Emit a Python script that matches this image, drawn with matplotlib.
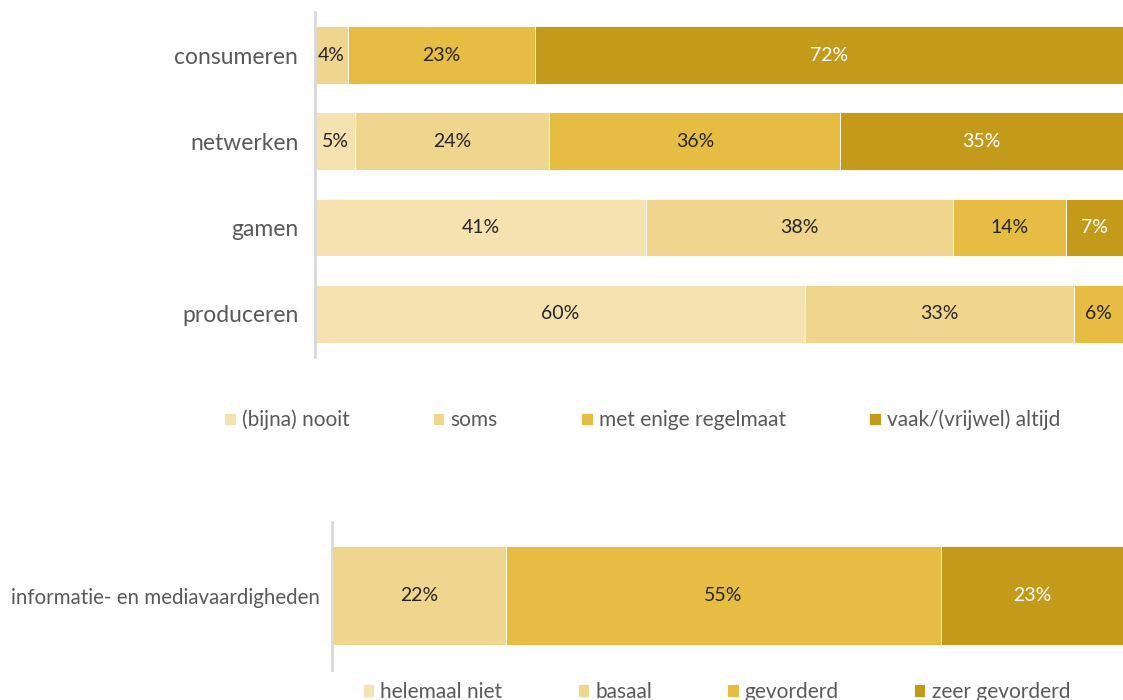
import matplotlib
matplotlib.use("Agg")
import matplotlib.pyplot as plt
import numpy as np

plt.rcParams['font.family'] = ['Lato', 'DejaVu Sans']

# --- data ---
top_categories = ["consumeren", "netwerken", "gamen", "produceren"]
top_series = ["(bijna) nooit", "soms", "met enige regelmaat", "vaak/(vrijwel) altijd"]
top_nooit = [0, 5, 41, 60]
top_soms = [4, 24, 38, 33]
top_regelmaat = [23, 36, 14, 6]
top_vaak = [72, 35, 7, 0]

bottom_categories = ["informatie- en mediavaardigheden"]
bottom_series = ["helemaal niet", "basaal", "gevorderd", "zeer gevorderd"]
bottom_niet = [0]
bottom_basaal = [22]
bottom_gevorderd = [55]
bottom_zeer = [23]

colors = ["#F5E2B0", "#F0D58F", "#E6BC42", "#C49A1A"]
text_colors = ["#262626", "#262626", "#262626", "#FFFFFF"]

fig = plt.figure(figsize=(11.23, 7.0), dpi=100)


def stacked(ax, cats, series_vals, names, bar_h, legend_xy, colspace,
            label_fs, label_pad):
    y = np.arange(len(cats))
    data = np.array(series_vals, dtype=float)
    totals = data.sum(axis=0)
    left = np.zeros(len(cats))
    handles = []
    for vals, name, col, tc in zip(data, names, colors, text_colors):
        widths = vals / totals * 100.0   # 100% stacked
        bars = ax.barh(y, widths, left=left, height=bar_h, color=col,
                       edgecolor='white', linewidth=0.6, label=name)
        handles.append(bars)
        for yi, (l, w, v) in enumerate(zip(left, widths, vals)):
            if v > 0:
                ax.text(l + w / 2, yi, f"{int(v)}%", ha='center', va='center',
                        fontsize=14, color=tc)
        left += widths
    ax.set_xlim(0, 100)
    ax.set_ylim(len(cats) - 0.5, -0.5)
    ax.set_yticks(y)
    ax.set_yticklabels(cats, fontsize=label_fs, color='#595959')
    ax.tick_params(axis='y', length=0, pad=label_pad)
    ax.set_xticks([])
    for s in ['top', 'right', 'bottom']:
        ax.spines[s].set_visible(False)
    ax.spines['left'].set_color('#D9D9D9')
    ax.spines['left'].set_linewidth(2)
    fig.legend(handles=handles, loc='center', bbox_to_anchor=legend_xy,
               ncol=4, frameon=False, fontsize=15, handlelength=0.55,
               handleheight=0.55, handletextpad=0.3, columnspacing=colspace,
               labelcolor='#595959')


ax1 = fig.add_axes([0.2805, 0.49, 0.7195, 0.493])
stacked(ax1, top_categories, [top_nooit, top_soms, top_regelmaat, top_vaak],
        top_series, 0.67, (0.572, 0.40), 4.0, 16.5, 12)

ax2 = fig.add_axes([0.2956, 0.043, 0.7044, 0.2113])
stacked(ax2, bottom_categories, [bottom_niet, bottom_basaal, bottom_gevorderd, bottom_zeer],
        bottom_series, 0.67, (0.638, 0.012), 3.6, 14.8, 8.5)

fig.savefig("out.png", dpi=100)
